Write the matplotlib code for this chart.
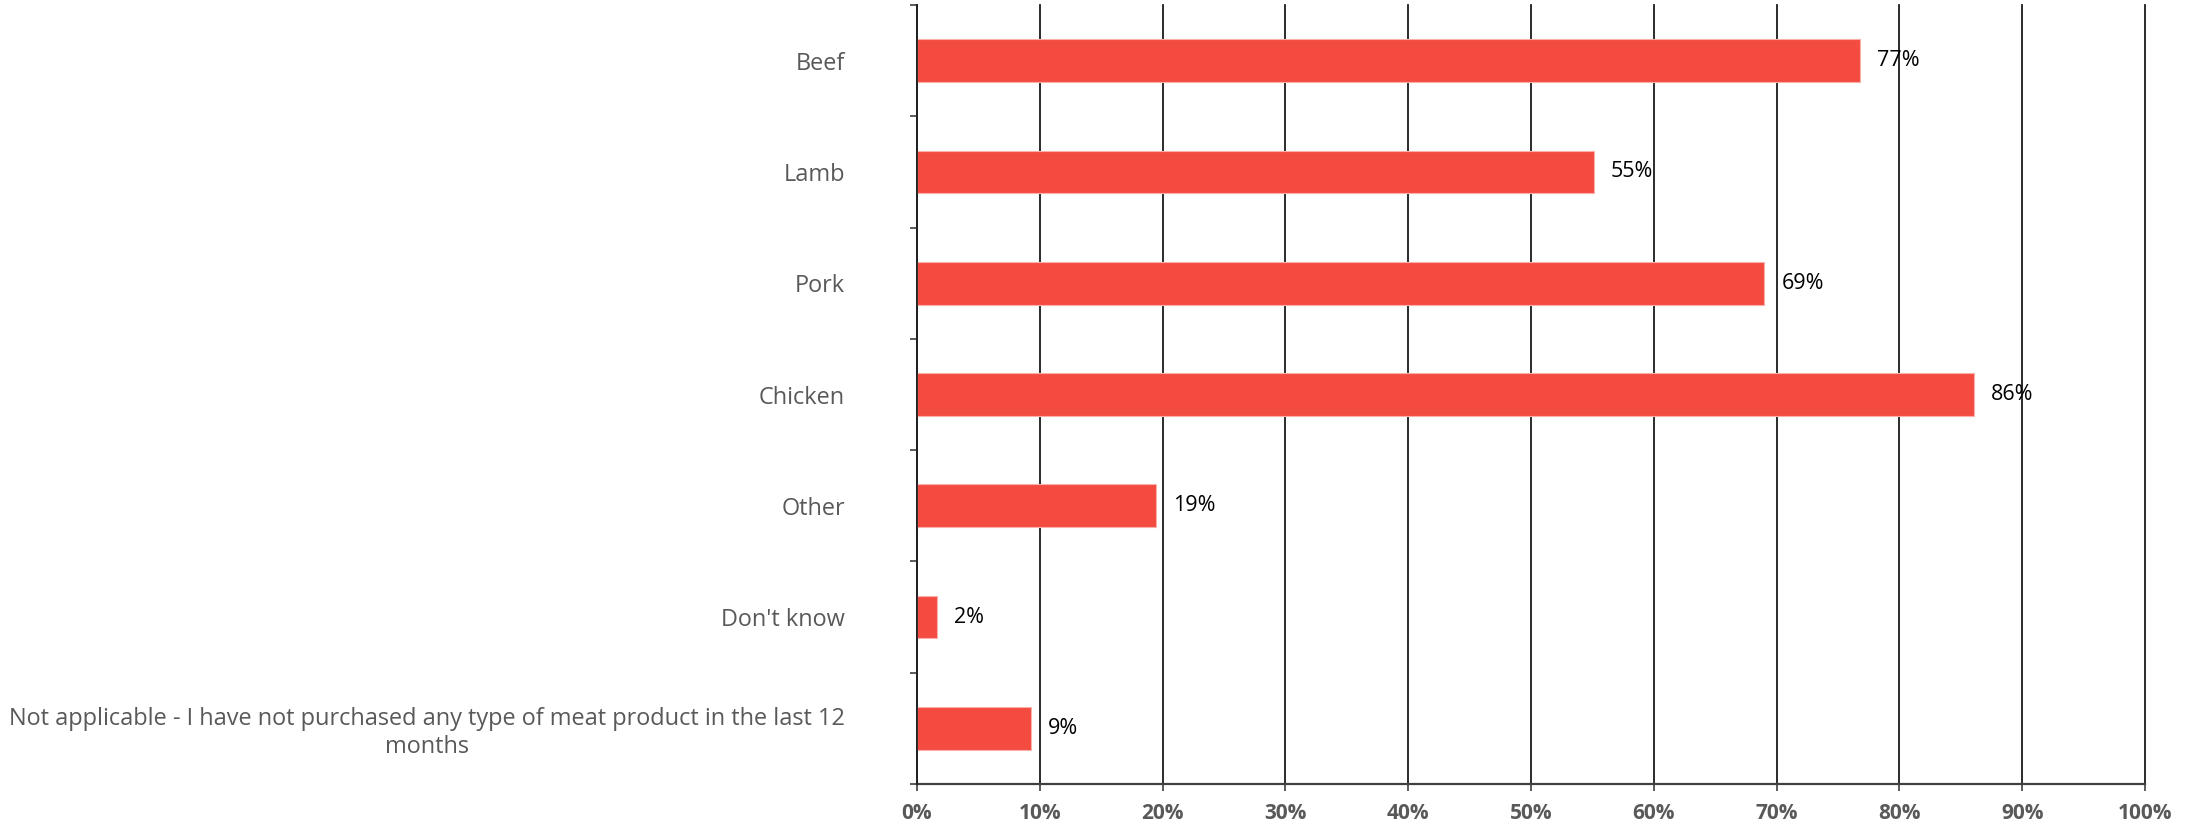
import matplotlib
matplotlib.use("Agg")
import matplotlib.pyplot as plt
import numpy as np

categories = ["Beef", "Lamb", "Pork", "Chicken", "Other", "Don't know",
              "Not applicable - I have not purchased any type of meat product in the last 12\nmonths"]
values = [76.8, 55.1, 69.0, 86.1, 19.5, 1.6, 9.3]
value_labels = ["77%", "55%", "69%", "86%", "19%", "2%", "9%"]
xticks = [0, 10, 20, 30, 40, 50, 60, 70, 80, 90, 100]
xtick_labels = ["0%", "10%", "20%", "30%", "40%", "50%", "60%", "70%", "80%", "90%", "100%"]

plt.rcParams['font.family'] = ['Open Sans', 'DejaVu Sans']

fig = plt.figure(figsize=(22.01, 8.26), dpi=100)
ax = fig.add_axes([917/2201, 42/826, (2145-917)/2201, (821-42)/826])

y = np.arange(len(categories))
ax.barh(y, values, height=0.385, color="#F44B40", edgecolor="#F8B0AA", linewidth=0.8, zorder=3)

ax.set_xlim(0, 100)
ax.set_ylim(len(categories) - 0.5, -0.5)

for v, lab, yy in zip(values, value_labels, y):
    ax.annotate(lab, xy=(v, yy), xytext=(17, 0), textcoords="offset pixels",
                ha="left", va="center", fontsize=15.5, color="black", zorder=5)

ax.set_xticks(xticks)
ax.set_xticklabels(xtick_labels, fontsize=15, fontweight="bold", color="#595959")
ax.tick_params(axis="x", length=5, width=1.2, color="#404040", pad=9)

ax.set_yticks(y)
ax.set_yticklabels(categories, fontsize=16.9, color="#595959", multialignment="center")
ax.tick_params(axis="y", which="major", length=0, pad=52)
ax.set_yticks(np.arange(len(categories) + 1) - 0.5, minor=True)
ax.tick_params(axis="y", which="minor", length=5, width=1.2, color="#404040")

ax.grid(axis="x", color="#1a1a1a", linewidth=1.3, zorder=1)
ax.set_axisbelow(True)
for gl in ax.get_xgridlines():
    gl.set_clip_on(False)

for s in ["top", "right"]:
    ax.spines[s].set_visible(False)
ax.spines["left"].set_color("#202020")
ax.spines["left"].set_linewidth(1.3)
ax.spines["left"].set_zorder(4)
ax.spines["bottom"].set_color("#404040")
ax.spines["bottom"].set_linewidth(1.6)

fig.savefig("out.png", dpi=100)
